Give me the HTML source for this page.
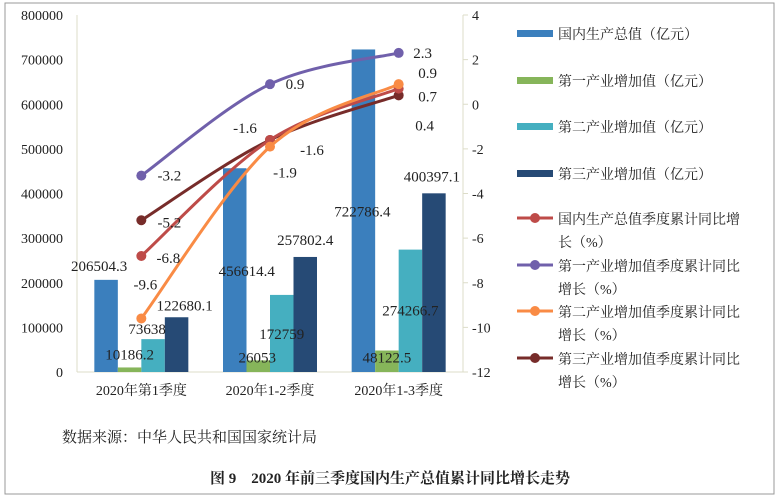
<!DOCTYPE html>
<html><head><meta charset="utf-8"><style>
body{margin:0;background:#fff;font-family:"Liberation Serif","Noto Serif CJK SC",serif;}
svg text{font-family:"Liberation Serif","Noto Serif CJK SC",serif;fill:#222;}
</style></head><body>
<svg id="c" width="780" height="499">
<rect x="5" y="3" width="769" height="491" fill="none" stroke="#999" stroke-width="1"/>
<g id="g"></g>
<text x="62" y="442" font-size="15">数据来源：中华人民共和国国家统计局</text>
<text x="390" y="483" font-size="15" font-weight="bold" text-anchor="middle">图 9　2020 年前三季度国内生产总值累计同比增长走势</text>
</svg>
<script>
const categories=["2020年第1季度","2020年1-2季度","2020年1-3季度"];
const gdp=[206504.3,456614.4,722786.4];
const primary=[10186.2,26053,48122.5];
const secondary=[73638,172759,274266.7];
const tertiary=[122680.1,257802.4,400397.1];
const gdpGrowth=[-6.8,-1.6,0.7];
const priGrowth=[-3.2,0.9,2.3];
const secGrowth=[-9.6,-1.9,0.9];
const terGrowth=[-5.2,-1.6,0.4];
const leftTicks=[0,100000,200000,300000,400000,500000,600000,700000,800000];
const rightTicks=[4,2,0,-2,-4,-6,-8,-10,-12];
const barNames=["国内生产总值（亿元）","第一产业增加值（亿元）","第二产业增加值（亿元）","第三产业增加值（亿元）"];
const lineNames=[["国内生产总值季度累计同比增","长（%）"],["第一产业增加值季度累计同比","增长（%）"],["第二产业增加值季度累计同比","增长（%）"],["第三产业增加值季度累计同比","增长（%）"]];

const X0=77,X1=463,Y0=372,Y1=15;
const yL=v=>Y0-(v/800000)*(Y0-Y1);
const yR=v=>Y1+(4-v)/16*(Y0-Y1);
const cw=(X1-X0)/categories.length;
const xc=i=>X0+cw*(i+0.5);
const g=document.getElementById('g');
const NS="http://www.w3.org/2000/svg";
function mk(t,a,txt){const e=document.createElementNS(NS,t);for(const k in a)e.setAttribute(k,a[k]);if(txt!==undefined)e.textContent=txt;g.appendChild(e);return e;}

let e;
e=mk('line',{x1:X0,y1:Y1,x2:X0,y2:Y0,stroke:'#dcdcc8'});


e=mk('line',{x1:X1,y1:Y1,x2:X1,y2:Y0,stroke:'#dcdcc8'});


e=mk('line',{x1:X0,y1:Y0,x2:X1,y2:Y0,stroke:'#dcdcc8'});


leftTicks.forEach(v=>{
 e=mk('text',{x:63,y:yL(v)+5,'font-size':14,'text-anchor':'end'},String(v));
 
 
});
rightTicks.forEach(v=>{
 mk('line',{x1:X1,y1:yR(v),x2:X1+5,y2:yR(v),stroke:'#dcdcc8'});
 e=mk('text',{x:472,y:yR(v)+5,'font-size':14},String(v));
 
 
});
categories.forEach((c,i)=>{
 e=mk('text',{x:xc(i),y:395,'font-size':14,'text-anchor':'middle'},c);
 
 
});
const barSeries=[gdp,primary,secondary,tertiary];
const barColors=['#3b7fbd','#86b55a','#45afc0','#264a75'];
const bw=23.5;
barSeries.forEach((s,k)=>s.forEach((v,i)=>{
 const x=xc(i)-2*bw+k*bw;
 e=mk('rect',{x:x,y:yL(v),width:bw,height:Y0-yL(v),fill:barColors[k]});
 
 
}));
const barLabOff=[[[-7,-9],[12,108],[-1,167]],[[0,-8],[-1,2],[0,12]],[[-6,-5],[0,44],[0,66]],[[8,-7],[0,-12],[-2,-12]]];
barSeries.forEach((s,k)=>s.forEach((v,i)=>{
 const x=xc(i)-2*bw+k*bw+bw/2+barLabOff[k][i][0];
 const y=yL(v)+barLabOff[k][i][1];
 e=mk('text',{x:x,y:y,'font-size':15,'text-anchor':'middle'},String(v));
 
 
}));
const lineSeries=[gdpGrowth,priGrowth,secGrowth,terGrowth];
const lineColors=['#be4b48','#7060ab','#f98b45','#772c2a'];
function smooth(pts){let d='M'+pts[0][0]+','+pts[0][1];for(let i=0;i<pts.length-1;i++){const p0=pts[i-1]||pts[i],p1=pts[i],p2=pts[i+1],p3=pts[i+2]||p2;const t=0.34;const c1=[p1[0]+(p2[0]-p0[0])*t/2,p1[1]+(p2[1]-p0[1])*t/2],c2=[p2[0]-(p3[0]-p1[0])*t/2,p2[1]-(p3[1]-p1[1])*t/2];d+=' C'+c1+' '+c2+' '+p2;}return d;}
const lineLab=[[[27,2],[-25,-12],[29,8]],[[28,0],[25,0],[24,0]],[[4,-34],[15,26],[29,-11]],[[28,2],[42,10],[26,30]]];
[1,3,0,2].forEach(k=>{
 const s=lineSeries[k];
 const pts=s.map((v,i)=>[xc(i),yR(v)]);
 e=mk('path',{d:smooth(pts),fill:'none',stroke:lineColors[k],'stroke-width':3});
 
 
 pts.forEach((p,i)=>{
  e=mk('circle',{cx:p[0],cy:p[1],r:5,fill:lineColors[k]});
  
  
 });
});
lineSeries.forEach((s,k)=>s.forEach((v,i)=>{
 e=mk('text',{x:xc(i)+lineLab[k][i][0],y:yR(v)+lineLab[k][i][1]+5,'font-size':15,'text-anchor':'middle'},String(v));
 
 
}));
const legY=[33,80,126,173];
barNames.forEach((n,k)=>{
 e=mk('rect',{x:517,y:legY[k]-3,width:36,height:7,fill:barColors[k]});
 
 
 e=mk('text',{x:558,y:legY[k]+6,'font-size':14},n);
 
 
});
const legLY=[218,265,311,358];
lineNames.forEach((n,k)=>{
 mk('line',{x1:517,y1:legLY[k],x2:553,y2:legLY[k],stroke:lineColors[k],'stroke-width':3});
 e=mk('circle',{cx:535,cy:legLY[k],r:5,fill:lineColors[k]});
 
 
 e=mk('text',{x:558,y:legLY[k]+6,'font-size':14},n[0]);
 
 
 mk('text',{x:558,y:legLY[k]+29,'font-size':14},n[1]);
});
</script>
</body></html>
